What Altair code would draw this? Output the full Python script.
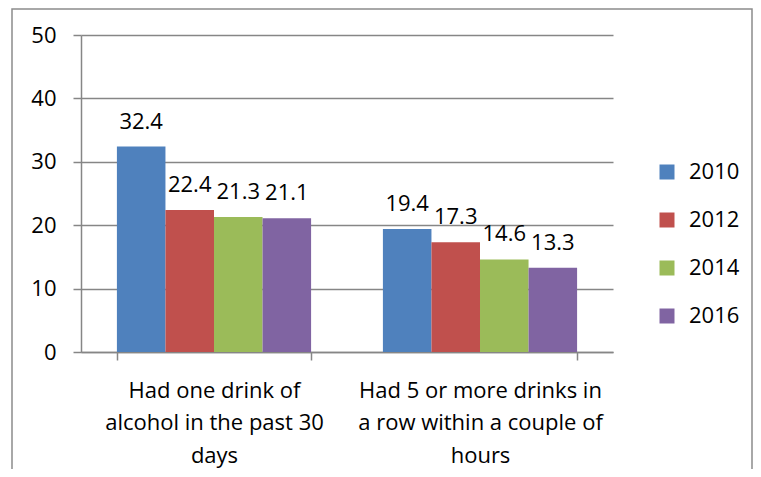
import altair as alt
import pandas as pd

categories = [
    "Had one drink of|alcohol in the past 30|days",
    "Had 5 or more drinks in|a row within a couple of|hours",
]
years = ["2010", "2012", "2014", "2016"]
values_2010 = [32.4, 19.4]
values_2012 = [22.4, 17.3]
values_2014 = [21.3, 14.6]
values_2016 = [21.1, 13.3]
colors = ["#4F81BD", "#C0504D", "#9BBB59", "#8064A2"]
y_ticks = [0, 10, 20, 30, 40, 50]

rows = []
for yr, vals in zip(years, [values_2010, values_2012, values_2014, values_2016]):
    for cat, v in zip(categories, vals):
        rows.append({"category": cat, "year": yr, "value": v})
df = pd.DataFrame(rows)

FONT = "Open Sans"
GRAY = "#868686"

base = alt.Chart(df).encode(
    x=alt.X(
        "category:N",
        sort=categories,
        scale=alt.Scale(paddingInner=0.27, paddingOuter=0.135),
        axis=alt.Axis(
            title=None,
            labelAngle=0,
            labelExpr="split(datum.label, '|')",
            labelFont=FONT,
            labelFontSize=22,
            labelColor="#000000",
            labelLineHeight=32.5,
            labelPadding=20,
            labelLimit=0,
            tickBand="extent",
            tickSize=8,
            tickColor=GRAY,
            domainColor=GRAY,
            tickWidth=1.5,
            domainWidth=1.5,
        ),
    ),
    xOffset=alt.XOffset("year:N", sort=years, scale=alt.Scale(paddingInner=0, paddingOuter=0)),
    y=alt.Y(
        "value:Q",
        scale=alt.Scale(domain=[0, 50], nice=False),
        axis=alt.Axis(
            title=None,
            values=y_ticks,
            labelFont=FONT,
            labelFontSize=22,
            labelColor="#000000",
            labelPadding=17,
            tickSize=8,
            tickColor=GRAY,
            domainColor=GRAY,
            gridColor=GRAY,
            tickWidth=1.5,
            domainWidth=1.5,
            gridWidth=1.5,
        ),
    ),
)

bars = base.mark_bar().encode(
    color=alt.Color(
        "year:N",
        sort=years,
        scale=alt.Scale(domain=years, range=colors),
        legend=alt.Legend(
            title=None,
            orient="none",
            legendX=575,
            legendY=126,
            padding=0,
            symbolType="square",
            symbolSize=225,
            symbolStrokeWidth=0,
            labelFont=FONT,
            labelFontSize=22,
            labelColor="#000000",
            labelOffset=11,
            labelLimit=0,
            rowPadding=26,
        ),
    )
)

labels = base.mark_text(dy=-25, font=FONT, fontSize=22, color="#000000").encode(
    text=alt.Text("value:Q", format=".1f")
)

border = alt.Chart(pd.DataFrame({"a": [0]})).mark_rect(
    filled=False, stroke="#8c8c8c", strokeWidth=1.5
).encode(x=alt.value(-69), x2=alt.value(671), y=alt.value(-26), y2=alt.value(500))

chart = (
    alt.layer(border, bars, labels)
    .properties(
        width=532,
        height=317,
        autosize=alt.AutoSizeParams(type="none"),
        padding={"left": 73, "top": 27, "right": 140, "bottom": 117},
    )
    .configure_view(stroke=None)
)

chart.save("out.html", embed_options={"renderer": "svg", "actions": False})
